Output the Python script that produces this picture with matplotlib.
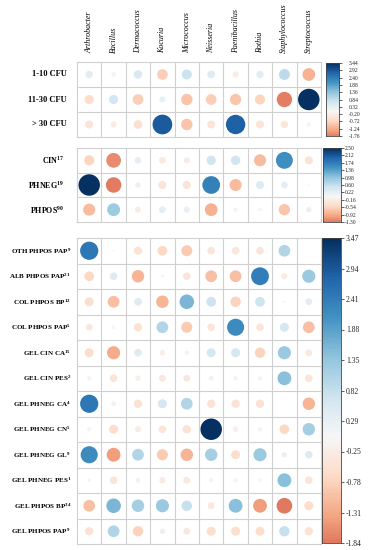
import numpy as np
import matplotlib.pyplot as plt
from matplotlib.colors import Normalize

plt.rcParams['font.family'] = ['Liberation Serif', 'DejaVu Serif']
plt.rcParams['mathtext.fontset'] = 'custom'
plt.rcParams['mathtext.bf'] = 'Liberation Serif:bold'
plt.rcParams['mathtext.rm'] = 'Liberation Serif:bold'

genera = ['Arthrobacter', 'Bacillus', 'Dermacoccus', 'Kocuria', 'Micrococcus',
          'Neisseria', 'Paenibacillus', 'Rothia', 'Staphylococcus', 'Streptococcus']

# panel 1: colony counts
cfu_rows = ['1-10 CFU', '11-30 CFU', '> 30 CFU']
cfu_vals = [
    [0.40, -0.16, 0.55, -0.85, 0.75, 0.45, -0.27, 0.40, 0.90, -1.20],
    [-0.62, 0.62, -0.86, 0.27, -0.97, -0.86, -0.95, -0.76, -1.76, 3.44],
    [-0.48, -0.27, -0.57, 2.90, -0.97, -0.48, 2.80, -0.48, -0.41, -0.12],
]

# panel 2: groups
grp_rows = [r'CIN$^{\mathbf{17}}$', r'PHNEG$^{\mathbf{19}}$', r'PHPOS$^{\mathbf{90}}$']
grp_vals = [
    [-0.55, -1.18, 0.24, -0.24, -0.20, 0.48, 0.48, -0.79, 1.55, -0.35],
    [2.50, -1.30, 0.16, -0.35, -0.35, 1.70, -0.79, 0.35, 0.24, 0.02],
    [-0.79, 0.90, -0.20, 0.24, 0.20, -0.88, 0.09, 0.06, -0.70, 0.16],
]

# panel 3: subgroups
sub_rows = [r'OTH PHPOS PAP$^{\mathbf{9}}$', r'ALB PHPOS PAP$^{\mathbf{21}}$',
            r'COL PHPOS BP$^{\mathbf{12}}$', r'COL PHPOS PAP$^{\mathbf{5}}$',
            r'GEL CIN CA$^{\mathbf{15}}$', r'GEL CIN PES$^{\mathbf{2}}$',
            r'GEL PHNEG CA$^{\mathbf{4}}$', r'GEL PHNEG CN$^{\mathbf{5}}$',
            r'GEL PHNEG GL$^{\mathbf{9}}$', r'GEL PHNEG PES$^{\mathbf{1}}$',
            r'GEL PHPOS BP$^{\mathbf{34}}$', r'GEL PHPOS PAP$^{\mathbf{9}}$']
sub_vals = [
    [2.50, 0.03, -0.52, -0.71, -0.92, -0.44, -0.44, -0.44, 1.04, 0.02],
    [-0.71, 0.44, -1.17, -0.09, -0.44, -1.04, -1.04, 2.40, -0.29, 1.30],
    [-0.61, -1.04, 0.44, -1.17, 1.59, 0.71, -0.81, 0.71, -0.06, 0.36],
    [-0.36, 0.09, -0.52, 1.04, -0.92, -0.44, 2.20, -0.44, 0.61, -1.04],
    [-0.61, -1.30, 0.44, -0.23, -0.13, 0.61, 0.61, -0.81, 1.30, -0.36],
    [-0.13, -0.44, -0.23, -0.36, -0.36, -0.18, -0.13, -0.13, 1.44, -0.44],
    [2.50, -0.18, -0.52, 0.61, 1.04, -0.52, -0.52, -0.52, 0.01, -1.17],
    [-0.13, -0.61, -0.29, -0.44, -0.52, 3.473, -0.23, -0.13, -0.71, 1.17],
    [2.20, -1.44, 1.04, -0.92, -1.17, 1.17, -0.61, 1.30, 0.23, 0.44],
    [-0.09, -0.44, -0.18, -0.29, -0.36, -0.13, -0.13, -0.09, 1.44, -0.44],
    [-1.04, 1.59, 1.17, 1.30, 0.81, -0.36, 1.44, -1.44, -1.84, -0.61],
    [-0.52, 1.04, -0.81, 0.23, -0.36, -0.61, -0.61, -0.61, 0.81, -0.52],
]

W, H = 372, 550
fig = plt.figure(figsize=(W / 100, H / 100), dpi=100)
X0, X1 = 77, 321


def box(x0, y0, x1, y1):
    return [x0 / W, 1 - y1 / H, (x1 - x0) / W, (y1 - y0) / H]


def panel(rows, vals, y0, y1, cbox, lab_x, lab_fs, cb_fs, cb_pad):
    vals = np.array(vals)
    nr, nc = vals.shape
    ax = fig.add_axes(box(X0, y0, X1, y1))
    vmin, vmax = vals.min(), vals.max()
    M = max(abs(vmin), abs(vmax))
    norm = Normalize(-M, M)
    cw = (X1 - X0) / nc
    yy, xx = np.mgrid[0:nr, 0:nc]
    d = 0.88 * cw * np.sqrt(np.abs(vals) / M) * 0.72
    ax.scatter(xx.ravel() + 0.5, yy.ravel() + 0.5, s=d.ravel() ** 2, c=vals.ravel(),
               cmap='RdBu', norm=norm, linewidths=0, zorder=3)
    ax.set_xlim(0, nc)
    ax.set_ylim(nr, 0)
    for i in range(nc + 1):
        ax.axvline(i, color='#d0d0d0', lw=0.8, clip_on=False, zorder=1)
    for j in range(nr + 1):
        ax.axhline(j, color='#d0d0d0', lw=0.8, clip_on=False, zorder=1)
    ax.axis('off')
    rh = (y1 - y0) / nr
    for j, r in enumerate(rows):
        fig.text(lab_x / W, 1 - (y0 + (j + 0.5) * rh) / H, r, ha='right', va='center',
                 fontsize=lab_fs, fontweight='bold')

    cax = fig.add_axes(box(*cbox))
    grad = np.linspace(vmin, vmax, 256)[:, None]
    cax.imshow(grad, cmap='RdBu', norm=norm, aspect='auto', origin='lower',
               extent=[0, 1, vmin, vmax])
    cax.set_xticks([])
    cax.yaxis.tick_right()
    ticks = np.linspace(vmin, vmax, 11)
    cax.set_yticks(ticks)
    cax.set_yticklabels(['%.2f' % t for t in ticks])
    cax.tick_params(axis='y', length=2, width=0.5, pad=cb_pad, labelsize=cb_fs, colors='#222222')
    for s in cax.spines.values():
        s.set_linewidth(0.6)
        s.set_color('#444444')


panel(cfu_rows, cfu_vals, 62, 137, (325.5, 63, 339, 136), 67, 6.0, 4.0, 5)
panel(grp_rows, grp_vals, 148, 222, (323, 148, 340.5, 222), 64, 5.8, 4.0, 1)
panel(sub_rows, sub_vals, 238, 544, (322, 238, 340.5, 543), 71, 5.0, 5.5, 2)

cw = (X1 - X0) / len(genera)
for i, g in enumerate(genera):
    fig.text((X0 + (i + 0.5) * cw) / W, 1 - 53 / H, g, rotation=90, ha='center', va='bottom',
             fontsize=5.8, fontstyle='italic')

fig.savefig('out.png', dpi=100, facecolor='white')
